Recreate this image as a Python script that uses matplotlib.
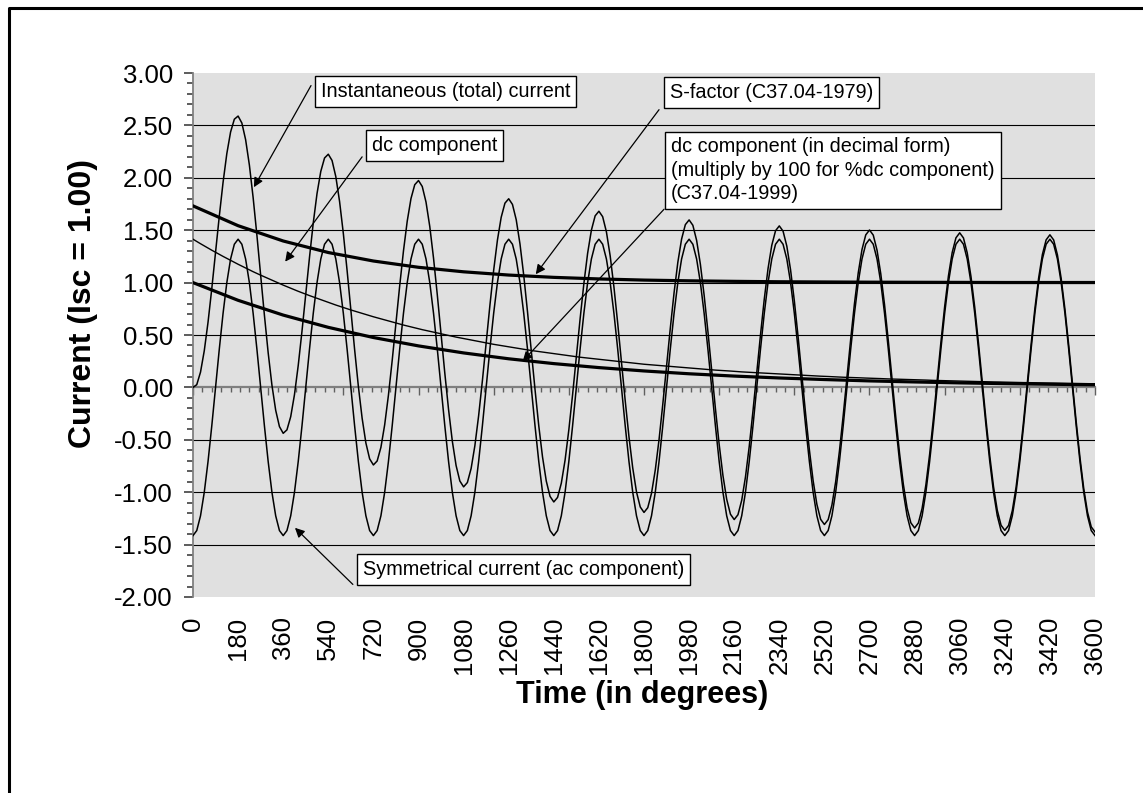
import matplotlib
matplotlib.use("Agg")
import matplotlib.pyplot as plt
from matplotlib.lines import Line2D
import numpy as np

plt.rcParams['font.family'] = ['Liberation Sans', 'DejaVu Sans']

# time axis, every 15 degrees (0..3600)
deg = np.arange(0, 3601, 15)

# symmetrical (ac) current, read per 15 degrees (one row = one cycle)
ac = [
    -1.414, -1.366, -1.225, -1.000, -0.707, -0.366, 0.0, 0.366, 0.707, 1.000, 1.225, 1.366,
    1.414, 1.366, 1.225, 1.000, 0.707, 0.366, 0.0, -0.366, -0.707, -1.000, -1.225, -1.366,
    -1.414, -1.366, -1.225, -1.000, -0.707, -0.366, 0.0, 0.366, 0.707, 1.000, 1.225, 1.366,
    1.414, 1.366, 1.225, 1.000, 0.707, 0.366, 0.0, -0.366, -0.707, -1.000, -1.225, -1.366,
    -1.414, -1.366, -1.225, -1.000, -0.707, -0.366, 0.0, 0.366, 0.707, 1.000, 1.225, 1.366,
    1.414, 1.366, 1.225, 1.000, 0.707, 0.366, 0.0, -0.366, -0.707, -1.000, -1.225, -1.366,
    -1.414, -1.366, -1.225, -1.000, -0.707, -0.366, 0.0, 0.366, 0.707, 1.000, 1.225, 1.366,
    1.414, 1.366, 1.225, 1.000, 0.707, 0.366, 0.0, -0.366, -0.707, -1.000, -1.225, -1.366,
    -1.414, -1.366, -1.225, -1.000, -0.707, -0.366, 0.0, 0.366, 0.707, 1.000, 1.225, 1.366,
    1.414, 1.366, 1.225, 1.000, 0.707, 0.366, 0.0, -0.366, -0.707, -1.000, -1.225, -1.366,
    -1.414, -1.366, -1.225, -1.000, -0.707, -0.366, 0.0, 0.366, 0.707, 1.000, 1.225, 1.366,
    1.414, 1.366, 1.225, 1.000, 0.707, 0.366, 0.0, -0.366, -0.707, -1.000, -1.225, -1.366,
    -1.414, -1.366, -1.225, -1.000, -0.707, -0.366, 0.0, 0.366, 0.707, 1.000, 1.225, 1.366,
    1.414, 1.366, 1.225, 1.000, 0.707, 0.366, 0.0, -0.366, -0.707, -1.000, -1.225, -1.366,
    -1.414, -1.366, -1.225, -1.000, -0.707, -0.366, 0.0, 0.366, 0.707, 1.000, 1.225, 1.366,
    1.414, 1.366, 1.225, 1.000, 0.707, 0.366, 0.0, -0.366, -0.707, -1.000, -1.225, -1.366,
    -1.414, -1.366, -1.225, -1.000, -0.707, -0.366, 0.0, 0.366, 0.707, 1.000, 1.225, 1.366,
    1.414, 1.366, 1.225, 1.000, 0.707, 0.366, 0.0, -0.366, -0.707, -1.000, -1.225, -1.366,
    -1.414, -1.366, -1.225, -1.000, -0.707, -0.366, 0.0, 0.366, 0.707, 1.000, 1.225, 1.366,
    1.414, 1.366, 1.225, 1.000, 0.707, 0.366, 0.0, -0.366, -0.707, -1.000, -1.225, -1.366,
    -1.414,
]

# dc component, read per 15 degrees (one row = 180 degrees)
dc = [
    1.414, 1.392, 1.371, 1.350, 1.329, 1.309, 1.289, 1.269, 1.250, 1.231, 1.212, 1.193,
    1.175, 1.157, 1.139, 1.122, 1.104, 1.087, 1.071, 1.055, 1.038, 1.022, 1.007, 0.992,
    0.976, 0.961, 0.946, 0.931, 0.917, 0.903, 0.890, 0.876, 0.863, 0.850, 0.836, 0.823,
    0.811, 0.799, 0.786, 0.774, 0.762, 0.750, 0.739, 0.728, 0.717, 0.706, 0.695, 0.684,
    0.674, 0.664, 0.653, 0.643, 0.633, 0.623, 0.614, 0.605, 0.595, 0.586, 0.577, 0.568,
    0.560, 0.551, 0.543, 0.535, 0.526, 0.518, 0.510, 0.502, 0.495, 0.487, 0.480, 0.473,
    0.465, 0.458, 0.451, 0.444, 0.437, 0.430, 0.424, 0.417, 0.411, 0.405, 0.398, 0.392,
    0.386, 0.380, 0.375, 0.369, 0.363, 0.357, 0.352, 0.347, 0.341, 0.336, 0.331, 0.326,
    0.321, 0.316, 0.311, 0.306, 0.302, 0.297, 0.292, 0.288, 0.284, 0.280, 0.275, 0.271,
    0.267, 0.263, 0.259, 0.255, 0.251, 0.247, 0.243, 0.239, 0.236, 0.232, 0.228, 0.225,
    0.221, 0.218, 0.215, 0.212, 0.208, 0.205, 0.202, 0.199, 0.196, 0.193, 0.190, 0.187,
    0.184, 0.181, 0.178, 0.175, 0.173, 0.170, 0.168, 0.165, 0.163, 0.160, 0.158, 0.156,
    0.153, 0.151, 0.148, 0.146, 0.144, 0.142, 0.139, 0.137, 0.135, 0.133, 0.131, 0.129,
    0.127, 0.125, 0.123, 0.121, 0.119, 0.117, 0.116, 0.114, 0.112, 0.110, 0.109, 0.107,
    0.106, 0.104, 0.102, 0.100, 0.099, 0.097, 0.096, 0.095, 0.093, 0.092, 0.090, 0.089,
    0.088, 0.087, 0.085, 0.084, 0.082, 0.081, 0.080, 0.079, 0.077, 0.076, 0.075, 0.074,
    0.073, 0.072, 0.071, 0.070, 0.068, 0.067, 0.066, 0.065, 0.064, 0.063, 0.062, 0.061,
    0.061, 0.060, 0.059, 0.058, 0.057, 0.056, 0.055, 0.054, 0.053, 0.052, 0.052, 0.051,
    0.050, 0.049, 0.049, 0.048, 0.047, 0.046, 0.046, 0.045, 0.044, 0.043, 0.043, 0.042,
    0.042, 0.041, 0.040, 0.039, 0.039, 0.038, 0.038, 0.037, 0.037, 0.036, 0.036, 0.035,
    0.035,
]

# total current = ac + dc
total = np.array(ac) + np.array(dc)

# half-cycle values for the two thick curves
deg_half = np.arange(0, 3601, 180)
dc_decimal = [1.000, 0.831, 0.690, 0.573, 0.476, 0.396, 0.329, 0.273, 0.227, 0.189, 0.157,
              0.130, 0.108, 0.090, 0.075, 0.062, 0.052, 0.043, 0.036, 0.030, 0.025]
s_factor = [1.732, 1.543, 1.397, 1.287, 1.206, 1.146, 1.103, 1.072, 1.050, 1.035, 1.024,
            1.017, 1.012, 1.008, 1.006, 1.004, 1.003, 1.002, 1.001, 1.001, 1.001]

x_ticks = np.arange(0, 3601, 180)
y_ticks = np.arange(-2.0, 3.01, 0.5)

fig = plt.figure(figsize=(11.43, 7.93), dpi=100)
ax = fig.add_axes([193 / 1143, 1 - 597 / 793, 902 / 1143, 524 / 793])
ax.set_facecolor('#E0E0E0')

for y in y_ticks:
    if y not in (-2.0, 0.0, 3.0):
        ax.axhline(y, color='black', lw=0.8, zorder=1)

ax.plot(deg, ac, color='black', lw=1.1, zorder=3)
ax.plot(deg, total, color='black', lw=1.1, zorder=3)
ax.plot(deg, dc, color='black', lw=1.0, zorder=3)
ax.plot(deg_half, s_factor, color='black', lw=2.3, zorder=3)
ax.plot(deg_half, dc_decimal, color='black', lw=2.3, zorder=3)

ax.set_xlim(0, 3600)
ax.set_ylim(-2, 3)

for side in ('top', 'right', 'bottom'):
    ax.spines[side].set_visible(False)
ax.spines['left'].set_color('#808080')
ax.spines['left'].set_linewidth(1.3)

ax.set_yticks(y_ticks)
ax.set_yticklabels([f"{v:.2f}" for v in y_ticks], fontsize=18.5)
ax.set_yticks(np.arange(-2.0, 3.01, 0.1), minor=True)
ax.tick_params(axis='y', which='major', length=6.5, width=1.1, color='#303030', pad=8)
ax.tick_params(axis='y', which='minor', length=4.3, width=1.1, color='#303030')

ax.set_xticks(x_ticks)
ax.set_xticklabels([str(v) for v in x_ticks], rotation=90, fontsize=18.5)
ax.tick_params(axis='x', which='both', length=0, pad=14)

# zero line axis with its tick marks
zax = ax.secondary_xaxis(0.4)
zax.spines['bottom'].set_color('#808080')
zax.spines['bottom'].set_linewidth(1.6)
zax.set_xticks(np.arange(0, 3601, 300))
zax.set_xticks(np.arange(0, 3601, 37.5), minor=True)
zax.set_xticklabels([])
zax.tick_params(axis='x', which='major', length=5.5, width=1.0, color='#606060', direction='out')
zax.tick_params(axis='x', which='minor', length=3.5, width=1.0, color='#606060', direction='out')

fig.text(83 / 1143, 1 - 303 / 793, "Current (Isc = 1.00)", rotation=90, fontsize=23,
         fontweight='bold', ha='center', va='center')
fig.text(642 / 1143, 1 - 695 / 793, "Time (in degrees)", fontsize=22,
         fontweight='bold', ha='center', va='center')

box = dict(boxstyle='square,pad=0.3', fc='white', ec='black', lw=1.0)
labels = [
    ("Instantaneous (total) current", 511, 2.82),
    ("dc component", 714, 2.31),
    ("S-factor (C37.04-1979)", 1904, 2.81),
    ("dc component (in decimal form)\n(multiply by 100 for %dc component)\n(C37.04-1999)", 1908, 2.07),
    ("Symmetrical current (ac component)", 678, -1.74),
]
for txt, lx, ly in labels:
    ax.text(lx, ly, txt, fontsize=14.3, ha='left', va='center', bbox=box, zorder=6,
            linespacing=1.3)

arrows = [
    ((243, 1.91), (471, 2.88)),
    ((368, 1.20), (675, 2.20)),
    ((1368, 1.08), (1860, 2.65)),
    ((1316, 0.25), (1880, 1.70)),
    ((407, -1.34), (638, -1.88)),
]
for tip, start in arrows:
    ax.annotate('', xy=tip, xytext=start,
                arrowprops=dict(arrowstyle='-|>', color='black', lw=0.9,
                                mutation_scale=14, shrinkA=0, shrinkB=0), zorder=5)

# outer frame (cut at the right and bottom edges)
bx, by = 9 / 1143, 1 - 8 / 793
fig.add_artist(Line2D([bx, bx, 1.0], [0.0, by, by], color='black', lw=2.2))

fig.savefig('out.png', dpi=100)
